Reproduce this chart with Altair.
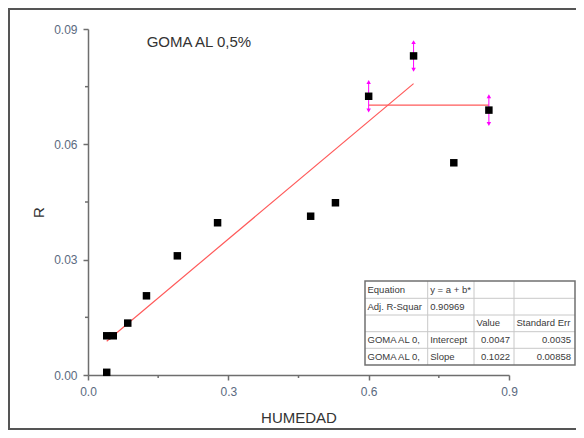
import altair as alt
import pandas as pd

# ---------------- data ----------------
humedad = [0.040, 0.040, 0.054, 0.085, 0.125, 0.191, 0.277, 0.476, 0.529, 0.600, 0.696, 0.782, 0.857]
r_vals = [0.0007, 0.0102, 0.0102, 0.0135, 0.0206, 0.0310, 0.0396, 0.0413, 0.0448, 0.0725, 0.0830, 0.0552, 0.0689]

err_x = [0.600, 0.696, 0.857]
err_y = [0.0725, 0.0830, 0.0689]
err_half = [0.0037, 0.0036, 0.0036]

fit_group = ["lineal", "lineal", "meseta", "meseta"]
fit_x = [0.040, 0.696, 0.600, 0.857]
fit_y = [0.0088, 0.0758, 0.0702, 0.0702]

x_ticks = [0.0, 0.3, 0.6, 0.9]
x_minor = [0.15, 0.45, 0.75]
y_ticks = [0.0, 0.03, 0.06, 0.09]
y_minor = [0.015, 0.045, 0.075]

title_text = "GOMA AL 0,5%"
x_title = "HUMEDAD"
y_title = "R"

table_rows = [
    ["Equation", "y = a + b*", "", ""],
    ["Adj. R-Squar", "0.90969", "", ""],
    ["", "", "Value", "Standard Err"],
    ["GOMA AL 0,", "Intercept", "0.0047", "0.0035"],
    ["GOMA AL 0,", "Slope", "0.1022", "0.00858"],
]

# ---------------- layout (pixels, plot-area coordinates) ----------------
W, H = 421, 346
col_edges = [277, 339.7, 386, 426, 487]
row_edges = [252, 269.3, 286, 302.7, 319.3, 336]
FONT = "Liberation Sans"

pts = pd.DataFrame({"x": humedad, "y": r_vals})
errs = pd.DataFrame({"x": err_x,
                     "lo": [a - b for a, b in zip(err_y, err_half)],
                     "hi": [a + b for a, b in zip(err_y, err_half)]})
fits = pd.DataFrame({"g": fit_group, "x": fit_x, "y": fit_y})

xs = alt.Scale(domain=[0, 0.9], nice=False, zero=False)
ys = alt.Scale(domain=[0, 0.09], nice=False, zero=False)

x_axis = alt.Axis(values=x_ticks, format=".1f", title=x_title, grid=False,
                  tickSize=5, tickWidth=1.5, tickColor="#6e6e6e",
                  domainColor="#6e6e6e", domainWidth=1.5,
                  labelFontSize=12, labelColor="#5b6a80", labelPadding=6,
                  labelFont=FONT, labelFlush=False,
                  titleFont=FONT, titleFontSize=15, titleFontWeight="normal",
                  titleColor="#333333", titleY=42, titleBaseline="middle")
y_axis = alt.Axis(values=y_ticks, format=".2f", title=y_title, grid=False,
                  tickSize=5, tickWidth=1.5, tickColor="#6e6e6e",
                  domainColor="#6e6e6e", domainWidth=1.5,
                  labelFontSize=12, labelColor="#5b6a80", labelPadding=6,
                  labelFont=FONT, labelFlush=False,
                  titleFont=FONT, titleFontSize=15, titleFontWeight="normal",
                  titleColor="#333333", titleAngle=-90, titleX=-50, titleY=183,
                  titleBaseline="middle", titleAlign="center")

X = alt.X("x:Q", scale=xs, axis=x_axis)
Y = alt.Y("y:Q", scale=ys, axis=y_axis)

one = pd.DataFrame({"k": [0]})

frame = alt.Chart(one).mark_rect(fillOpacity=0, stroke="#555555", strokeWidth=2).encode(
    x=alt.value(-79), x2=alt.value(700), y=alt.value(-20), y2=alt.value(400))

fit_lines = alt.Chart(fits).mark_line(color="#ff5a5a", strokeWidth=1.2).encode(
    x=X, y=Y, detail="g:N")

err_rule = alt.Chart(errs).mark_rule(color="#ff00ff", strokeWidth=1).encode(
    x=X, y=alt.Y("lo:Q", scale=ys, axis=y_axis), y2="hi:Q")
err_up = alt.Chart(errs).mark_point(shape="triangle-up", filled=True, size=20,
                                    color="#ff00ff", opacity=1).encode(
    x=X, y=alt.Y("hi:Q", scale=ys, axis=y_axis))
err_dn = alt.Chart(errs).mark_point(shape="triangle-down", filled=True, size=20,
                                    color="#ff00ff", opacity=1).encode(
    x=X, y=alt.Y("lo:Q", scale=ys, axis=y_axis))

points = alt.Chart(pts).mark_square(size=56, color="#000000", opacity=1).encode(x=X, y=Y)

xm = alt.Chart(pd.DataFrame({"x": x_minor})).mark_rule(color="#6e6e6e", strokeWidth=1.5).encode(
    x=X, y=alt.value(H), y2=alt.value(H + 3))
ym = alt.Chart(pd.DataFrame({"y": y_minor})).mark_rule(color="#6e6e6e", strokeWidth=1.5).encode(
    y=Y, x=alt.value(-3), x2=alt.value(0))

title = alt.Chart(one).mark_text(text=title_text, font=FONT, fontSize=15, color="#333333",
                                 align="left", baseline="middle").encode(
    x=alt.value(58.7), y=alt.value(12.5))

# ---- results table ----
cells_l, cells_r = [], []
for r, row in enumerate(table_rows):
    yc = (row_edges[r] + row_edges[r + 1]) / 2
    for c, txt in enumerate(row):
        if not txt:
            continue
        numeric = c >= 2 and txt[0].isdigit()
        if numeric:
            cells_r.append({"t": txt, "px": col_edges[c + 1] - 4, "py": yc})
        else:
            cells_l.append({"t": txt, "px": col_edges[c] + 2.5, "py": yc})

lines = []
for ye in row_edges[1:-1]:
    lines.append({"x1": col_edges[0], "x2": col_edges[-1], "y1": ye, "y2": ye})
for xe in col_edges[1:-1]:
    lines.append({"x1": xe, "x2": xe, "y1": row_edges[0], "y2": row_edges[-1]})

tbl_lines = alt.Chart(pd.DataFrame(lines)).mark_rule(color="#c8c8c8", strokeWidth=1).encode(
    x=alt.X("x1:Q", scale=None, axis=None), x2="x2:Q",
    y=alt.Y("y1:Q", scale=None, axis=None), y2="y2:Q")
tbl_box = alt.Chart(one).mark_rect(fillOpacity=0, stroke="#707070", strokeWidth=1.5).encode(
    x=alt.value(col_edges[0]), x2=alt.value(col_edges[-1]),
    y=alt.value(row_edges[0]), y2=alt.value(row_edges[-1]))
tbl_bg = alt.Chart(one).mark_rect(color="white").encode(
    x=alt.value(col_edges[0]), x2=alt.value(col_edges[-1]),
    y=alt.value(row_edges[0]), y2=alt.value(row_edges[-1]))
tbl_txt_l = alt.Chart(pd.DataFrame(cells_l)).mark_text(
    font=FONT, fontSize=9.5, color="#3a3a3a", align="left", baseline="middle").encode(
    x=alt.X("px:Q", scale=None, axis=None), y=alt.Y("py:Q", scale=None, axis=None), text="t:N")
tbl_txt_r = alt.Chart(pd.DataFrame(cells_r)).mark_text(
    font=FONT, fontSize=9.5, color="#3a3a3a", align="right", baseline="middle").encode(
    x=alt.X("px:Q", scale=None, axis=None), y=alt.Y("py:Q", scale=None, axis=None), text="t:N")

chart = alt.layer(
    frame, fit_lines, err_rule, err_up, err_dn, points, xm, ym, title,
    tbl_bg, tbl_lines, tbl_box, tbl_txt_l, tbl_txt_r
).properties(
    width=W, height=H,
    autosize=alt.AutoSizeParams(type="none"),
    padding={"left": 80, "top": 21, "right": 67, "bottom": 55},
    background="white",
).configure_view(stroke="transparent")

chart.save("out.html", embed_options={"renderer": "svg", "actions": False})
